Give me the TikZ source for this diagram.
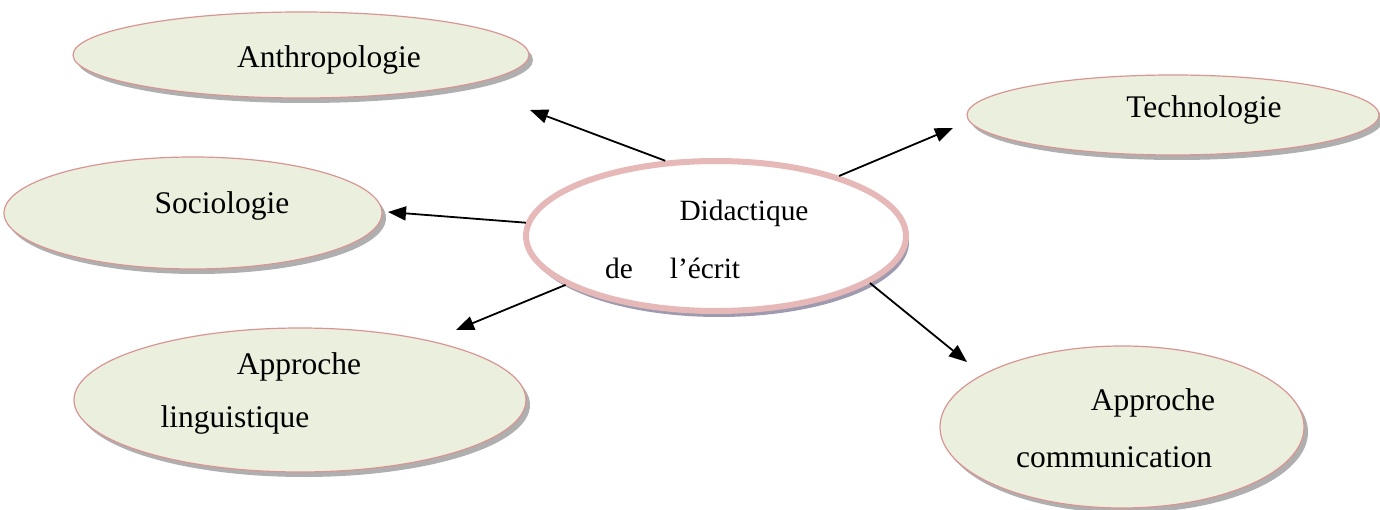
\documentclass[tikz,border=0pt]{standalone}
\usepackage{fontspec}
\setmainfont{Liberation Serif}
\usetikzlibrary{shapes.geometric,shadows,arrows.meta}
\definecolor{leaf}{HTML}{EBF0DE}
\definecolor{rim}{HTML}{D99594}
\definecolor{rimc}{HTML}{E6B8B7}
\definecolor{shad}{HTML}{A6A6A6}
\definecolor{shadc}{HTML}{9E9AB0}
\tikzset{
  outer/.style={ellipse, draw=rim, line width=1.2pt, fill=leaf, inner sep=0pt,
    drop shadow={shadow xshift=4pt, shadow yshift=-5pt, fill=shad, opacity=0.9}},
  core/.style={ellipse, draw=rimc, line width=6pt, fill=white, inner sep=0pt,
    drop shadow={shadow xshift=3pt, shadow yshift=-6pt, fill=shadc, opacity=1}},
  lbl/.style={inner sep=0pt, font=\fontsize{31.5}{38}\selectfont},
  clbl/.style={inner sep=0pt, font=\fontsize{29.4}{35}\selectfont},
  arr/.style={line width=1.8pt, -{Triangle[length=18pt,width=14pt]}}
}
\begin{document}
\begin{tikzpicture}[x=1pt,y=-1pt]
\useasboundingbox (0,0) rectangle (1380,510);
% nodes
\node[outer, minimum width=456pt, minimum height=86pt] (anth) at (301,55) {};
\node[outer, minimum width=412pt, minimum height=80pt] (tech) at (1173,115) {};
\node[outer, minimum width=378pt, minimum height=112pt] (soc) at (193,213) {};
\node[outer, minimum width=452pt, minimum height=144pt] (ling) at (300,400) {};
\node[outer, minimum width=364pt, minimum height=162pt] (comm) at (1122,427) {};
\node[core, minimum width=380pt, minimum height=150pt] (c) at (716,236) {};
% labels
\node[lbl] (tanth) at (329,60) {Anthropologie};
\node[lbl] (ttech) at (1204,110) {Technologie};
\node[lbl] (tsoc) at (222,206) {Sociologie};
\node[lbl] (tling1) at (299,367) {Approche};
\node[lbl] (tling2) at (235,420) {linguistique};
\node[lbl] (tcomm1) at (1153,403) {Approche};
\node[lbl] (tcomm2) at (1114,457) {communication};
\node[clbl] (td1) at (744,213) {Didactique};
\node[clbl] (td2) at (619,268) {de};
\node[clbl] (td3) at (705,268) {l’écrit};
% arrow tips
\coordinate (pa) at (530,110);
\coordinate (ps) at (388,212);
\coordinate (pl) at (456,330);
\coordinate (pt) at (953,128);
\coordinate (pc) at (967,362);
% connectors
\draw[arr] (c.124) -- (pa);
\draw[arr] (c.176.8) -- (ps);
\draw[arr] (c.198.9) -- (pl);
\draw[arr] (c.26.4) -- (pt);
\draw[arr] (c.-17.9) -- (pc);
\end{tikzpicture}
\end{document}
